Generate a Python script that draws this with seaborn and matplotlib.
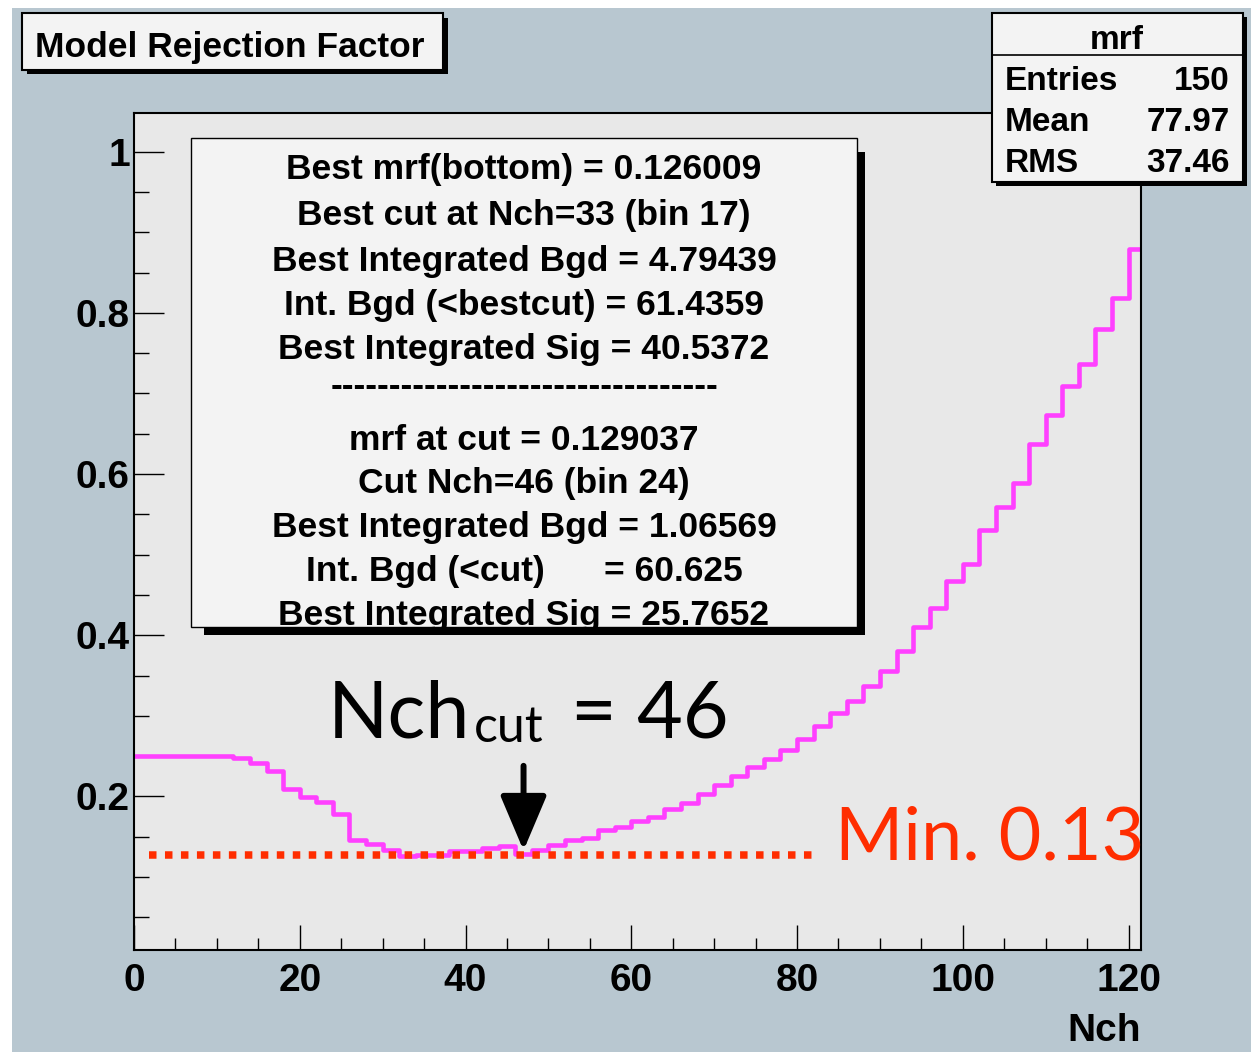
import numpy as np
import pandas as pd
import matplotlib
matplotlib.use("Agg")
import matplotlib.pyplot as plt
from matplotlib.patches import Rectangle
from matplotlib.ticker import MultipleLocator, FixedLocator, FixedFormatter
import seaborn as sns

# ---- histogram content: model rejection factor in 2-unit Nch bins ----
nch_edges = np.arange(0, 124, 2)
mrf_values = [
    0.250, 0.250, 0.250, 0.250, 0.250, 0.250,          # 0-12
    0.248, 0.242, 0.232, 0.209, 0.199, 0.193, 0.178,   # 12-26
    0.146, 0.141, 0.134, 0.126, 0.127, 0.127, 0.132,   # 26-40
    0.132, 0.136, 0.138, 0.129, 0.134, 0.140, 0.146,   # 40-54
    0.149, 0.158, 0.162, 0.170, 0.175, 0.184, 0.192,   # 54-68
    0.203, 0.214, 0.225, 0.236, 0.247, 0.258, 0.271,   # 68-82
    0.287, 0.303, 0.318, 0.337, 0.356, 0.380, 0.410,   # 82-96
    0.434, 0.467, 0.489, 0.531, 0.559, 0.589, 0.637,   # 96-110
    0.673, 0.709, 0.737, 0.780, 0.818, 0.879,          # 110-122
]
nch_centers = (nch_edges[:-1] + nch_edges[1:]) / 2

# minimum marker line and cut arrow
min_line_x = [1.8, 81.8]
min_line_y = [0.127, 0.127]
cut_arrow_x = 47.0
cut_arrow_y = [0.238, 0.133]

# axis ticks
x_major = [0, 20, 40, 60, 80, 100, 120]
y_major = [0.2, 0.4, 0.6, 0.8, 1.0]
y_major_labels = ["0.2", "0.4", "0.6", "0.8", "1"]

# text content
title_text = "Model Rejection Factor"
stats_name = "mrf"
stats_keys = ["Entries", "Mean", "RMS"]
stats_vals = ["150", "77.97", "37.46"]
pave_lines = [
    "Best mrf(bottom) = 0.126009",
    "Best cut at Nch=33 (bin 17)",
    "Best Integrated Bgd = 4.79439",
    "Int. Bgd (<bestcut) = 61.4359",
    "Best Integrated Sig = 40.5372",
    "-" * 33,
    "mrf at cut = 0.129037",
    "Cut Nch=46 (bin 24)",
    "Best Integrated Bgd = 1.06569",
    "Int. Bgd (<cut)      = 60.625",
    "Best Integrated Sig = 25.7652",
]

# ---- style ----
CANVAS = "#b8c7d0"
FRAME = "#e8e8e8"
PAVE = "#f3f3f3"
MAGENTA = "#ff40ff"
RED = "#ff2d00"

sns.set_style("ticks")
plt.rcParams["font.family"] = ["Liberation Sans", "DejaVu Sans"]
plt.rcParams["font.weight"] = "bold"
for key in ("text.color", "axes.labelcolor", "xtick.color", "ytick.color",
            "axes.edgecolor"):
    plt.rcParams[key] = "black"

W, H = 1251, 1052
fig = plt.figure(figsize=(W / 100, H / 100), dpi=100, facecolor="white")


def fx(x):
    return x / W


def fy(y):
    return 1 - y / H


def box(x0, y0, x1, y1, face, lw=1.2, z=1):
    r = Rectangle((fx(x0), fy(y1)), fx(x1) - fx(x0), fy(y0) - fy(y1),
                  transform=fig.transFigure, facecolor=face,
                  edgecolor="black" if lw else "none", linewidth=lw, zorder=z)
    fig.add_artist(r)
    return r


# canvas background
box(12, 8, W + 5, H + 5, CANVAS, lw=0, z=-5)

ax = fig.add_axes([fx(134), fy(950), fx(1141) - fx(134), fy(113) - fy(950)])
ax.set_facecolor(FRAME)

df = pd.DataFrame({"Nch": nch_centers, "mrf": mrf_values})
sns.histplot(data=df, x="Nch", weights="mrf", binwidth=2,
             binrange=(nch_edges[0], nch_edges[-1]), element="step",
             fill=False, color=MAGENTA, linewidth=3.3, ax=ax)

ax.plot(min_line_x, min_line_y, color=RED, linewidth=5.4,
        linestyle=(0, (1.0, 1.13)), dash_capstyle="butt", zorder=3)

ax.annotate("", xy=(cut_arrow_x, cut_arrow_y[1]), xytext=(cut_arrow_x, cut_arrow_y[0]),
            arrowprops=dict(arrowstyle="-|>,head_length=1.3,head_width=0.55",
                            mutation_scale=26, lw=4.3, color="black",
                            shrinkA=0, shrinkB=0), zorder=4)

ax.set_xlim(0, 121.5)
ax.set_ylim(0.0095, 1.048)
ax.xaxis.set_major_locator(FixedLocator(x_major))
ax.xaxis.set_minor_locator(MultipleLocator(5))
ax.yaxis.set_major_locator(FixedLocator(y_major))
ax.yaxis.set_major_formatter(FixedFormatter(y_major_labels))
ax.yaxis.set_minor_locator(MultipleLocator(0.05))
ax.tick_params(which="both", direction="in", top=False, right=False,
               colors="black", width=1.0)
ax.tick_params(axis="y", which="major", length=21.6, pad=3, labelsize=28)
ax.tick_params(axis="y", which="minor", length=10.8)
ax.tick_params(axis="x", which="major", length=18, pad=9.5, labelsize=28)
ax.tick_params(axis="x", which="minor", length=9)
for s in ax.spines.values():
    s.set_visible(True)
    s.set_linewidth(1.5)
    s.set_color("black")
ax.set_ylabel("")
ax.set_xlabel("Nch", loc="right", fontsize=28, fontweight="bold",
              labelpad=10, color="black")

# title box
box(27, 18, 448, 74, "black", lw=0, z=1)
box(22, 13, 443, 70, PAVE, lw=1.5, z=2)
fig.text(fx(35), fy(57), title_text, fontsize=25.5, weight="bold",
         va="baseline", ha="left", zorder=3)

# statistics box
box(996, 17, 1247, 186, "black", lw=0, z=1)
box(992, 13, 1243, 182, PAVE, lw=1.5, z=2)
fig.add_artist(plt.Line2D([fx(992), fx(1243)], [fy(55), fy(55)],
                          transform=fig.transFigure, color="black", lw=1.2, zorder=3))
fig.text(fx(1117), fy(49), stats_name, fontsize=24, weight="bold",
         ha="center", va="baseline", zorder=3)
for i, (k, v) in enumerate(zip(stats_keys, stats_vals)):
    yb = 90 + 41 * i
    fig.text(fx(1005), fy(yb), k, fontsize=24, weight="bold", ha="left",
             va="baseline", zorder=3)
    fig.text(fx(1230), fy(yb), v, fontsize=24, weight="bold", ha="right",
             va="baseline", zorder=3)

# summary pave
box(204, 152, 865, 635, "black", lw=0, z=1)
box(191, 138, 857, 627, PAVE, lw=1.0, z=2)
pave_baselines = [179.5, 225.5, 271, 315.5, 359.5, 396, 450.5, 493, 537.5, 580.5, 624.5]
for line, yb in zip(pave_lines, pave_baselines):
    fig.text(fx(524), fy(yb), line, fontsize=25.5, weight="bold",
             ha="center", va="baseline", zorder=3)

# cut annotation: Nch_cut = 46
renderer = fig.canvas.get_renderer()
t1 = fig.text(fx(328), fy(737), "Nch", fontsize=57, family="Lato",
              weight="normal", va="baseline", ha="left", zorder=5)
bb1 = t1.get_window_extent(renderer)
t2 = fig.text((bb1.x1 + 3) / W, fy(742), "cut", fontsize=36, family="Lato",
              weight="normal", va="baseline", ha="left", zorder=5)
bb2 = t2.get_window_extent(renderer)
fig.text((bb2.x1 + 28) / W, fy(737), "= 46", fontsize=57, family="Lato",
         weight="normal", va="baseline", ha="left", zorder=5)

# minimum label
fig.text(fx(835), fy(860), "Min. 0.13", fontsize=53, family="Lato",
         weight="normal", color=RED, va="baseline", ha="left", zorder=5)

fig.savefig("out.png", dpi=100, facecolor=fig.get_facecolor())
